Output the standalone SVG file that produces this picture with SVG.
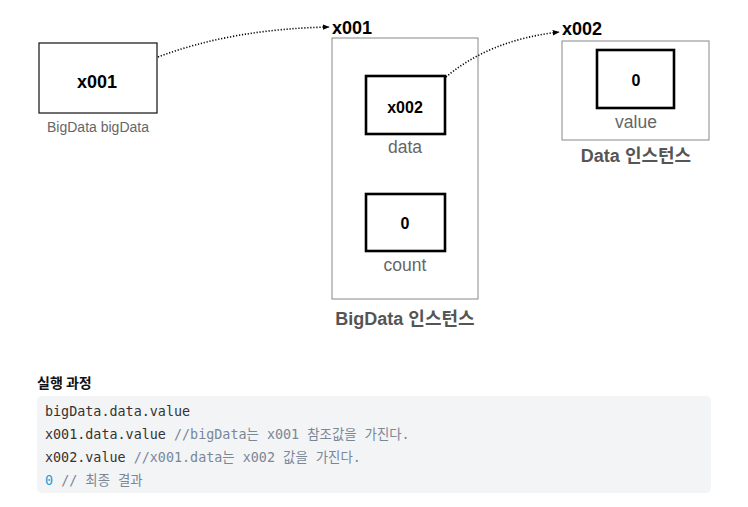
<svg xmlns="http://www.w3.org/2000/svg" width="748" height="507" viewBox="0 0 748 507">
<style>
  .sans { font-family: "Liberation Sans", "Noto Sans CJK KR", sans-serif; }
  .val { font-size: 18px; font-weight: bold; fill: #000; text-anchor: middle; }
  .valsm { font-size: 16px; font-weight: bold; fill: #000; text-anchor: middle; }
  .lbl { font-size: 17.5px; fill: #666; text-anchor: middle; }
  .addr { font-size: 18px; font-weight: bold; fill: #000; }
  .title { font-size: 18px; font-weight: bold; fill: #555; text-anchor: middle; }
  .inst { fill: #fff; stroke: #888; stroke-width: 1; }
  .slot { fill: #fff; stroke: #000; stroke-width: 2.6; }
  .conn { fill: none; stroke: #000; stroke-width: 1.6; stroke-dasharray: 1.2 1.8; }
  .code { font-family: "DejaVu Sans Mono", "Liberation Mono", "Noto Sans CJK KR", monospace; font-size: 13.4px; fill: #333; }
  .cmt { fill: #7a8797; }
  .num { fill: #1a9fd6; }
</style>
<defs>
  <marker id="ah" viewBox="0 0 10 10" refX="9" refY="5" markerWidth="7" markerHeight="7" markerUnits="userSpaceOnUse" orient="auto">
    <path d="M0,1 L10,5 L0,9 Z" fill="#000"/>
  </marker>
</defs>

<g id="var-bigData" class="sans">
  <rect x="39" y="43" width="118" height="70" fill="#fff" stroke="#222" stroke-width="1.3"/>
  <text x="97" y="88" class="val">x001</text>
  <text x="98" y="132" font-size="14" fill="#666" text-anchor="middle">BigData bigData</text>
</g>

<g id="bigdata-instance" class="sans">
  <text x="332" y="34" class="addr">x001</text>
  <rect x="332" y="38" width="146" height="261" class="inst"/>
  <g id="slot-data">
    <rect x="366" y="76" width="79" height="58" class="slot"/>
    <text x="405" y="113" class="valsm">x002</text>
    <text x="405" y="153" class="lbl">data</text>
  </g>
  <g id="slot-count">
    <rect x="366" y="194" width="79" height="57" class="slot"/>
    <text x="405" y="229" class="valsm">0</text>
    <text x="405" y="271" class="lbl">count</text>
  </g>
  <text x="405" y="325" class="title">BigData 인스턴스</text>
</g>

<g id="data-instance" class="sans">
  <text x="562" y="35" class="addr">x002</text>
  <rect x="562" y="41" width="147" height="99" class="inst"/>
  <g id="slot-value">
    <rect x="597" y="50" width="77" height="58" class="slot"/>
    <text x="636" y="86" class="valsm">0</text>
    <text x="636" y="128" class="lbl">value</text>
  </g>
  <text x="636" y="162" class="title">Data 인스턴스</text>
</g>

<g id="connectors">
  <path d="M158,57 Q232,29 329,27" class="conn" marker-end="url(#ah)"/>
  <path d="M446,77 Q490,40 559,32" class="conn" marker-end="url(#ah)"/>
</g>

<g id="process">
  <text x="37" y="388" font-family="'Noto Sans CJK KR', sans-serif" font-size="14" font-weight="bold" fill="#111">실행 과정</text>
  <rect x="37" y="396" width="674" height="97" rx="5" fill="#f3f4f6"/>
  <text x="45" y="416" class="code">bigData.data.value</text>
  <text x="45" y="439" class="code">x001.data.value <tspan class="cmt">//bigData는 x001 참조값을 가진다.</tspan></text>
  <text x="45" y="462" class="code">x002.value <tspan class="cmt">//x001.data는 x002 값을 가진다.</tspan></text>
  <text x="45" y="485" class="code"><tspan class="num">0</tspan> <tspan class="cmt">// 최종 결과</tspan></text>
</g>
</svg>
